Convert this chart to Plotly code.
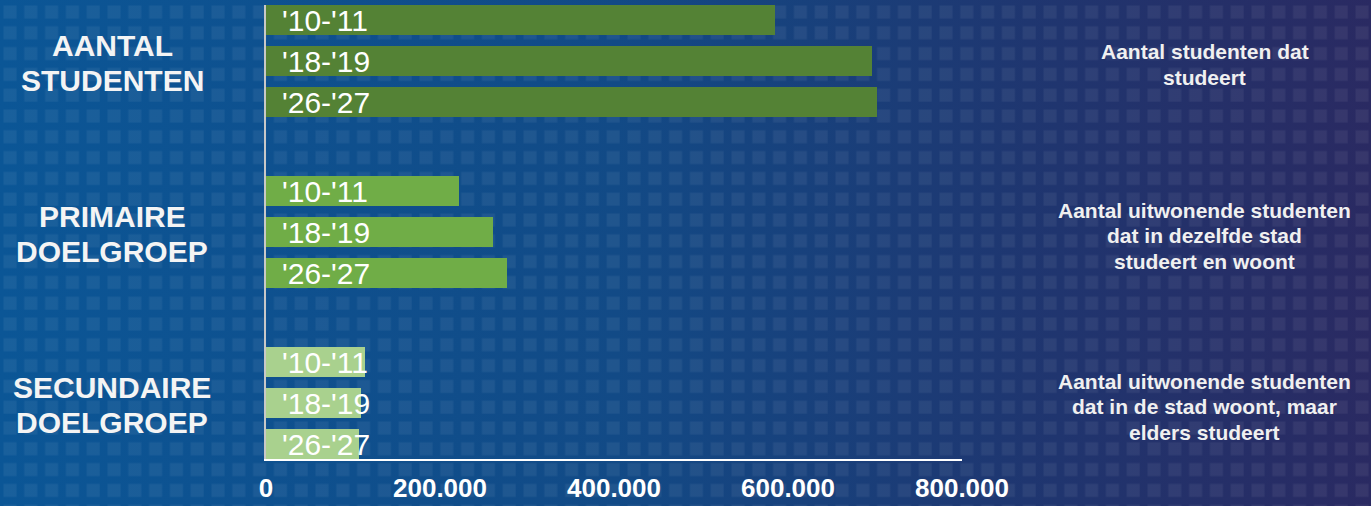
import base64
import plotly.graph_objects as go

# ---- data ----
groups = [["AANTAL", "STUDENTEN"], ["PRIMAIRE", "DOELGROEP"], ["SECUNDAIRE", "DOELGROEP"]]
descriptions = [
    ["Aantal studenten dat", "studeert"],
    ["Aantal uitwonende studenten", "dat in dezelfde stad", "studeert en woont"],
    ["Aantal uitwonende studenten", "dat in de stad woont, maar", "elders studeert"],
]
periods = ["'10-'11", "'18-'19", "'26-'27"]
values_aantal = [585000, 696500, 702300]
values_primair = [222200, 260600, 277400]
values_secundair = [113800, 109200, 107200]
tick_vals = [0, 200000, 400000, 600000, 800000]
tick_text = ["0", "200.000", "400.000", "600.000", "800.000"]

series = [values_aantal, values_primair, values_secundair]
colors = ["#548235", "#70ad47", "#a9d18e"]

W, H = 1371, 506
L, R, T, B = 266, 409, 5, 47
GROUP_STEP = 171 / 41.0
BAR_W = 30 / 41.0
FONT = "Arial, Liberation Sans, sans-serif"
LEFT_LINE = 35     # px between lines of the left labels
RIGHT_LINE = 25.5  # px between lines of the right descriptions

fig = go.Figure()
annotations = []
for g, vals in enumerate(series):
    ys = [g * GROUP_STEP + i for i in range(len(periods))]
    fig.add_trace(go.Bar(
        x=vals, y=ys, orientation="h", width=BAR_W,
        marker=dict(color=colors[g], line=dict(width=0)),
        hoverinfo="x", showlegend=False,
    ))
    for p, yv in zip(periods, ys):
        annotations.append(dict(
            x=0, y=yv, xref="x", yref="y", text=p, showarrow=False,
            xanchor="left", yanchor="middle", xshift=14,
            font=dict(family=FONT, size=30, color="white"),
        ))
    ymid = g * GROUP_STEP + 1
    n = len(groups[g])
    for k, line in enumerate(groups[g]):
        annotations.append(dict(
            x=-0.221, y=ymid, xref="paper", yref="y", text="<b>" + line + "</b>",
            showarrow=False, xanchor="center", yanchor="middle",
            yshift=-((k - (n - 1) / 2) * LEFT_LINE) - 1.5,
            font=dict(family=FONT, size=30, color="#f4f4f4"),
        ))
    n = len(descriptions[g])
    for k, line in enumerate(descriptions[g]):
        annotations.append(dict(
            x=1.349, y=ymid, xref="paper", yref="y", text="<b>" + line + "</b>",
            showarrow=False, xanchor="center", yanchor="middle",
            yshift=-((k - (n - 1) / 2) * RIGHT_LINE) - 3.5,
            font=dict(family=FONT, size=21, color="#f0f0f0"),
        ))

# background: gradient with faint square pattern
svg = f'''<svg xmlns="http://www.w3.org/2000/svg" width="{W}" height="{H}" viewBox="0 0 {W} {H}">
<defs>
<linearGradient id="g" x1="0" y1="0" x2="1" y2="0">
<stop offset="0" stop-color="#0b5696"/>
<stop offset="0.45" stop-color="#124a86"/>
<stop offset="0.75" stop-color="#1f3670"/>
<stop offset="1" stop-color="#2a2a62"/>
</linearGradient>
<pattern id="p" x="0" y="2" width="20.8" height="20.8" patternUnits="userSpaceOnUse">
<rect x="3.5" y="3.5" width="13" height="13" fill="#ffffff" fill-opacity="0.06"/>
</pattern>
</defs>
<rect width="{W}" height="{H}" fill="url(#g)"/>
<rect width="{W}" height="{H}" fill="url(#p)"/>
</svg>'''
src = "data:image/svg+xml;base64," + base64.b64encode(svg.encode()).decode()

pw = W - L - R
ph = H - T - B
ymin = -BAR_W / 2
ymax = 2 * GROUP_STEP + 2 + BAR_W / 2

fig.update_layout(
    width=W, height=H,
    margin=dict(l=L, r=R, t=T, b=B, pad=0, autoexpand=False),
    paper_bgcolor="#174a80",
    plot_bgcolor="rgba(0,0,0,0)",
    bargap=0,
    images=[dict(
        source=src, xref="paper", yref="paper",
        x=-L / pw, y=1 + T / ph, sizex=W / pw, sizey=H / ph,
        xanchor="left", yanchor="top", sizing="stretch", layer="below",
    )],
    annotations=annotations,
    xaxis=dict(
        range=[0, 800000], tickvals=tick_vals, ticktext=tick_text,
        showgrid=False, zeroline=False, showline=True, linecolor="white", linewidth=2,
        ticks="", ticklabelstandoff=5, automargin=False,
        tickfont=dict(family=FONT, size=26, color="white", weight="bold"),
        fixedrange=True,
    ),
    yaxis=dict(
        range=[ymax, ymin], showgrid=False, zeroline=False, showticklabels=False,
        showline=True, linecolor="#c8c8c8", linewidth=2, ticks="", fixedrange=True,
        automargin=False,
    ),
)

fig.write_html(
    "out.html",
    config={"displayModeBar": False},
    post_script="document.body.style.margin='0';document.body.style.background='#174a80';",
)
